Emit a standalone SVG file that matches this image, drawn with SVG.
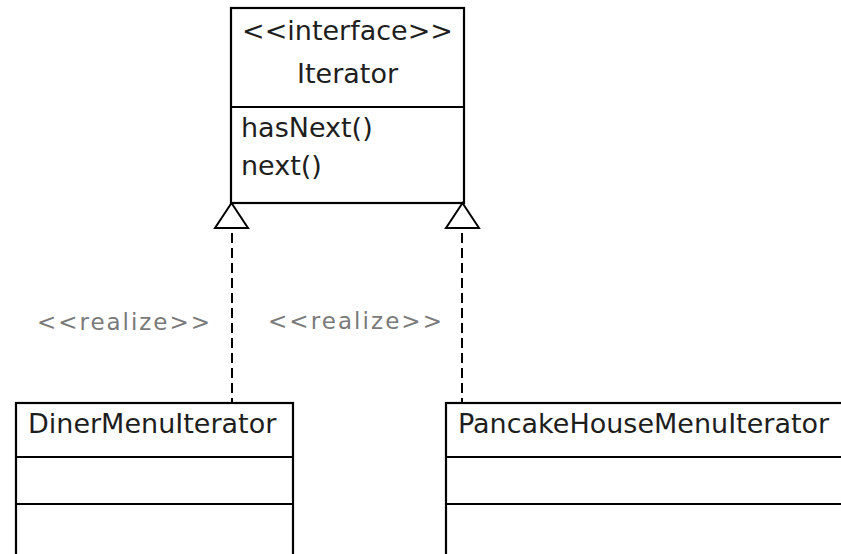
<svg xmlns="http://www.w3.org/2000/svg" width="841" height="554" viewBox="0 0 841 554">
<style>
.box{fill:#fff;stroke:#000;stroke-width:2.2}
.div{stroke:#000;stroke-width:2.2}
.t{font-family:"DejaVu Sans",sans-serif;font-size:27px;fill:#1e1e1e}
.lbl{font-family:"DejaVu Sans",sans-serif;font-size:23px;fill:#7a7a7a}
.dash{stroke:#000;stroke-width:2;stroke-dasharray:10 5;fill:none}
.tri{fill:#fff;stroke:#000;stroke-width:2}
</style>
<rect width="841" height="554" fill="#fff"/>
<g id="Iterator">
<rect class="box" x="231" y="8" width="233" height="195"/>
<line class="div" x1="231" y1="107" x2="464" y2="107"/>
<text class="t" x="347.5" y="40" text-anchor="middle">&lt;&lt;interface&gt;&gt;</text>
<text class="t" x="347.5" y="83" text-anchor="middle">Iterator</text>
<text class="t" x="241" y="137">hasNext()</text>
<text class="t" x="241" y="175">next()</text>
</g>
<g id="DinerMenuIterator">
<rect class="box" x="16" y="403" width="277" height="170"/>
<line class="div" x1="16" y1="457" x2="293" y2="457"/>
<line class="div" x1="16" y1="504" x2="293" y2="504"/>
<text class="t" x="28" y="433">DinerMenuIterator</text>
</g>
<g id="PancakeHouseMenuIterator">
<rect class="box" x="446" y="403" width="420" height="170"/>
<line class="div" x1="446" y1="457" x2="866" y2="457"/>
<line class="div" x1="446" y1="504" x2="866" y2="504"/>
<text class="t" x="458" y="433">PancakeHouseMenuIterator</text>
</g>
<g id="connectors">
<line class="dash" x1="232" y1="233" x2="232" y2="403"/>
<polygon class="tri" points="231.5,203 215,228 248,228"/>
<text class="lbl" x="37" y="330" textLength="173" lengthAdjust="spacing">&lt;&lt;realize&gt;&gt;</text>
<line class="dash" x1="462" y1="233" x2="462" y2="403"/>
<polygon class="tri" points="462.5,203 446,228 479,228"/>
<text class="lbl" x="268" y="329" textLength="174" lengthAdjust="spacing">&lt;&lt;realize&gt;&gt;</text>
</g>
</svg>
